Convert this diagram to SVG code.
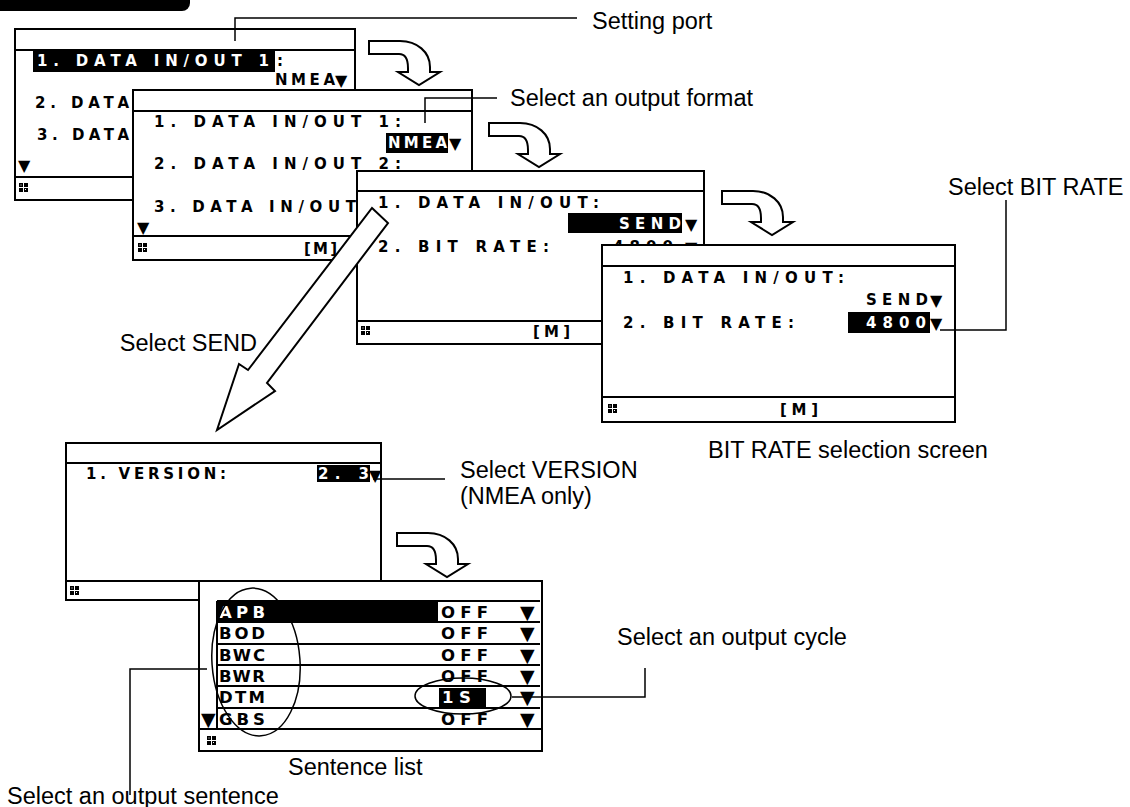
<svg xmlns="http://www.w3.org/2000/svg" width="1130" height="807" viewBox="0 0 1130 807">
<style>
.scr{fill:#fff;stroke:#000;stroke-width:2}
.ln{stroke:#000;stroke-width:2;fill:none}
.lead{stroke:#000;stroke-width:1.5;fill:none}
.lcd{font-family:"DejaVu Sans",sans-serif;font-size:15px;font-weight:bold;fill:#000}
.lst{font-family:"DejaVu Sans",sans-serif;font-size:16.5px;font-weight:bold;fill:#000}
.tri{font-family:"DejaVu Sans",sans-serif;font-size:16px;fill:#000}
.tri2{font-family:"DejaVu Sans",sans-serif;font-size:19px;fill:#000}
.lbl{font-family:"Liberation Sans",Arial,sans-serif;font-size:23.5px;fill:#000}
.arr{fill:#fff;stroke:#000;stroke-width:2;stroke-linejoin:miter}
.blk{fill:#000}
.w{fill:#fff}
</style>
<defs>
<path id="curl" d="M0,0 H31 C48,0 61,11 61,26 V31 H71 L50,44 L29,31 H39 V27 C39,18 36,13 30,13 H0 Z"/>
<g id="icon"><rect width="9" height="9" fill="#000"/><rect x="4" y="0" width="1" height="9" fill="#fff"/><rect x="0" y="4" width="9" height="1" fill="#fff"/><rect x="1.5" y="1.5" width="1" height="1" fill="#fff"/><rect x="6" y="6" width="1" height="1" fill="#fff"/></g>
</defs>

<path d="M0,0 H190 V3 A8,8 0 0 1 182,11 H0 Z" fill="#000"/>

<g id="screen1">
<rect class="scr" x="15" y="29" width="340" height="171"/>
<line class="ln" x1="15" y1="50" x2="355" y2="50"/>
<line class="ln" x1="15" y1="177" x2="355" y2="177"/>
<rect class="blk" x="33" y="50" width="242" height="22"/>
<text class="lcd w" x="37" y="66" textLength="232" lengthAdjust="spacing">1. DATA IN/OUT 1</text>
<text class="lcd" x="277" y="66">:</text>
<text class="lcd" x="275" y="85" textLength="60" lengthAdjust="spacing">NMEA</text>
<text class="tri" x="335" y="86">▼</text>
<text class="lcd" x="35" y="108" textLength="94" lengthAdjust="spacing">2. DATA</text>
<text class="lcd" x="37" y="140" textLength="92" lengthAdjust="spacing">3. DATA</text>
<text class="tri" x="18" y="171">▼</text>
<use href="#icon" x="19" y="183"/>
</g>

<g id="screen2">
<rect class="scr" x="133" y="90" width="339" height="170"/>
<line class="ln" x1="133" y1="111" x2="472" y2="111"/>
<line class="ln" x1="133" y1="236" x2="472" y2="236"/>
<text class="lcd" x="154" y="127" textLength="247" lengthAdjust="spacing">1. DATA IN/OUT 1:</text>
<rect class="blk" x="386" y="133" width="62" height="20"/>
<text class="lcd w" x="388" y="148" textLength="59" lengthAdjust="spacing">NMEA</text>
<text class="tri" x="449" y="149">▼</text>
<text class="lcd" x="154" y="169" textLength="247" lengthAdjust="spacing">2. DATA IN/OUT 2:</text>
<text class="lcd" x="154" y="212" textLength="202" lengthAdjust="spacing">3. DATA IN/OUT</text>
<text class="tri" x="137" y="233">▼</text>
<use href="#icon" x="138" y="243"/>
<text class="lcd" x="304" y="254" textLength="33" lengthAdjust="spacing">[M]</text>
</g>

<g id="screen3">
<rect class="scr" x="357" y="171" width="347" height="173"/>
<line class="ln" x1="357" y1="191" x2="704" y2="191"/>
<line class="ln" x1="357" y1="321" x2="704" y2="321"/>
<text class="lcd" x="378" y="208" textLength="221" lengthAdjust="spacing">1. DATA IN/OUT:</text>
<rect class="blk" x="568" y="213" width="114" height="20"/>
<text class="lcd w" x="619" y="229" textLength="62" lengthAdjust="spacing">SEND</text>
<text class="tri" x="685" y="230">▼</text>
<text class="lcd" x="378" y="252" textLength="171" lengthAdjust="spacing">2. BIT RATE:</text>
<text class="lcd" x="613" y="252" textLength="60" lengthAdjust="spacing">4800</text>
<text class="tri" x="685" y="253">▼</text>
<use href="#icon" x="361" y="326"/>
<text class="lcd" x="533" y="337" textLength="37" lengthAdjust="spacing">[M]</text>
</g>

<g id="screen4">
<rect class="scr" x="602" y="245" width="353" height="177"/>
<line class="ln" x1="602" y1="266" x2="955" y2="266"/>
<line class="ln" x1="602" y1="397" x2="955" y2="397"/>
<text class="lcd" x="623" y="283" textLength="221" lengthAdjust="spacing">1. DATA IN/OUT:</text>
<text class="lcd" x="866" y="305" textLength="62" lengthAdjust="spacing">SEND</text>
<text class="tri" x="930" y="306">▼</text>
<text class="lcd" x="623" y="328" textLength="171" lengthAdjust="spacing">2. BIT RATE:</text>
<rect class="blk" x="848" y="312" width="82" height="21"/>
<text class="lcd w" x="866" y="328" textLength="60" lengthAdjust="spacing">4800</text>
<text class="tri" x="930" y="329">▼</text>
<use href="#icon" x="608" y="404"/>
<text class="lcd" x="780" y="415" textLength="38" lengthAdjust="spacing">[M]</text>
</g>

<g id="screen-version">
<rect class="scr" x="66" y="443" width="315" height="157"/>
<line class="ln" x1="66" y1="463" x2="381" y2="463"/>
<line class="ln" x1="66" y1="581" x2="381" y2="581"/>
<text class="lcd" x="86" y="479" textLength="140" lengthAdjust="spacing">1. VERSION:</text>
<rect class="blk" x="317" y="465" width="53" height="17"/>
<text class="lcd w" x="318" y="479" textLength="51" lengthAdjust="spacing">2. 3</text>
<text class="tri" x="369" y="481">▼</text>
<use href="#icon" x="70" y="586"/>
</g>

<g id="screen-sentences">
<rect class="scr" x="199" y="581" width="343" height="170"/>
<rect class="blk" x="217" y="601" width="221" height="21"/>
<line class="ln" x1="217" y1="601" x2="540" y2="601"/>
<line class="ln" x1="217" y1="622" x2="540" y2="622"/>
<line class="ln" x1="217" y1="644" x2="540" y2="644"/>
<line class="ln" x1="217" y1="665" x2="540" y2="665"/>
<line class="ln" x1="217" y1="686" x2="540" y2="686"/>
<line class="ln" x1="217" y1="708" x2="540" y2="708"/>
<line class="ln" x1="199" y1="729" x2="542" y2="729"/>
<line class="ln" x1="217" y1="601" x2="217" y2="729"/>
<text class="lst w" x="219" y="618" textLength="46" lengthAdjust="spacing">APB</text>
<text class="lst" x="219" y="639" textLength="46" lengthAdjust="spacing">BOD</text>
<text class="lst" x="219" y="661" textLength="46" lengthAdjust="spacing">BWC</text>
<text class="lst" x="219" y="682" textLength="46" lengthAdjust="spacing">BWR</text>
<text class="lst" x="219" y="703" textLength="46" lengthAdjust="spacing">DTM</text>
<text class="lst" x="219" y="725" textLength="46" lengthAdjust="spacing">GBS</text>
<text class="lst" x="441" y="618" textLength="47" lengthAdjust="spacing">OFF</text>
<text class="lst" x="441" y="639" textLength="47" lengthAdjust="spacing">OFF</text>
<text class="lst" x="441" y="661" textLength="47" lengthAdjust="spacing">OFF</text>
<text class="lst" x="441" y="682" textLength="47" lengthAdjust="spacing">OFF</text>
<rect class="blk" x="439" y="688" width="47" height="19"/>
<text class="lst w" x="442" y="703" textLength="29" lengthAdjust="spacing">1S</text>
<text class="lst" x="441" y="725" textLength="47" lengthAdjust="spacing">OFF</text>
<text class="tri2" x="520" y="619">▼</text>
<text class="tri2" x="520" y="640">▼</text>
<text class="tri2" x="520" y="662">▼</text>
<text class="tri2" x="520" y="683">▼</text>
<text class="tri2" x="520" y="704">▼</text>
<text class="tri2" x="520" y="726">▼</text>
<text class="tri2" x="201" y="726">▼</text>
<use href="#icon" x="207" y="736"/>
</g>

<g id="connectors">
<use href="#curl" class="arr" x="369" y="41"/>
<use href="#curl" class="arr" x="489" y="123"/>
<use href="#curl" class="arr" x="722" y="191"/>
<use href="#curl" class="arr" x="397" y="533"/>
<polygon class="arr" points="372,208 388,223 267,383 275,391 217,430 239,364 248,370"/>
<polyline class="lead" points="235,41 235,18 577,18"/>
<polyline class="lead" points="425,123 425,98 497,98"/>
<polyline class="lead" points="940,330 1006,330 1006,200"/>
<polyline class="lead" points="373,479 445,479"/>
<ellipse class="lead" cx="256" cy="662" rx="44" ry="74" transform="rotate(-4 256 662)"/>
<ellipse class="lead" cx="463" cy="696" rx="48" ry="18"/>
<polyline class="lead" points="512,697 645,697 645,668"/>
<polyline class="lead" points="207,669 130,669 130,795"/>
</g>

<g id="labels">
<text class="lbl" x="592" y="29">Setting port</text>
<text class="lbl" x="510" y="106">Select an output format</text>
<text class="lbl" x="948" y="195">Select BIT RATE</text>
<text class="lbl" x="257" y="351" text-anchor="end">Select SEND</text>
<text class="lbl" x="708" y="458">BIT RATE selection screen</text>
<text class="lbl" x="460" y="478">Select VERSION</text>
<text class="lbl" x="460" y="504">(NMEA only)</text>
<text class="lbl" x="617" y="645">Select an output cycle</text>
<text class="lbl" x="288" y="775">Sentence list</text>
<text class="lbl" x="7" y="804">Select an output sentence</text>
</g>
</svg>
